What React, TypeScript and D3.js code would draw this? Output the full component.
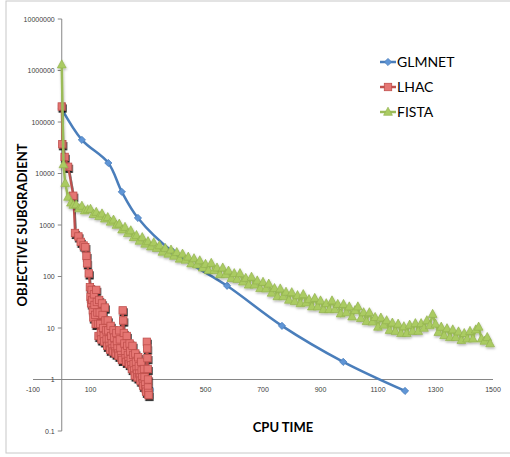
import { curveCatmullRom, curveLinear, line, scaleLinear, scaleLog } from "d3";

// CPU time vs. objective subgradient
const glmnetPoints: [number, number][] = [
  [0, 180000], [70, 45000], [162, 16000], [209, 4400], [265, 1370],
  [387, 300], [575, 66], [766, 11], [979, 2.2], [1194, 0.6]
];

const lhacPoints: [number, number][] = [
  [0, 200000], [2, 37000], [10, 21000], [22, 13500], [40, 3700], [46, 700],
  [58, 600], [66, 470], [76, 400], [82, 370], [86, 250], [88, 180], [94, 115],
  [98, 62], [100, 40], [102, 30], [104, 55], [106, 35], [108, 22], [110, 16],
  [112, 45], [114, 28], [116, 18], [118, 12], [120, 55], [122, 32], [124, 20],
  [126, 12], [128, 7], [130, 35], [132, 20], [134, 12], [136, 8], [138, 6],
  [140, 30], [142, 18], [144, 10], [146, 7], [148, 5.5], [150, 25], [152, 14],
  [154, 9], [156, 6], [158, 4.5], [160, 14], [162, 9], [164, 6], [166, 4.5],
  [168, 3.8], [170, 11], [172, 7], [174, 5], [176, 4], [178, 3.5], [180, 9],
  [182, 6.5], [184, 4.5], [186, 3.5], [188, 3.2], [190, 8], [192, 5.5], [194, 4],
  [196, 3.2], [198, 2.9], [200, 9], [202, 6], [204, 4], [206, 3], [208, 2.6],
  [210, 2.4], [212, 22], [214, 14], [216, 8], [218, 5], [220, 3.5], [222, 2.6],
  [224, 2.2], [226, 7], [228, 4.5], [230, 3], [232, 2.3], [234, 2], [236, 5],
  [238, 3.5], [240, 2.5], [242, 1.9], [244, 1.6], [246, 4.5], [248, 3], [250, 2],
  [252, 1.5], [254, 1.2], [256, 3.2], [258, 2.2], [260, 1.6], [262, 1.3],
  [264, 1.1], [266, 2.7], [268, 1.8], [270, 1.3], [272, 1.1], [274, 0.95],
  [276, 2.2], [278, 1.5], [280, 1.1], [282, 0.85], [284, 0.75], [286, 1.6],
  [288, 1.1], [290, 0.8], [292, 0.65], [294, 0.58], [296, 5.4], [297, 4],
  [298, 2.6], [299, 1.6], [300, 1.0], [300, 0.7], [301, 0.55], [302, 0.5]
];

const fistaPoints: [number, number][] = [
  [0, 1300000], [6, 15000], [12, 6500], [22, 3500], [32, 2700],
  [40, 2450], [50, 2500], [60, 2090], [70, 2340], [80, 1900], [90, 2000],
  [100, 2040], [110, 1620], [120, 1780], [130, 1480], [140, 1660], [150, 1320],
  [160, 1410], [170, 1150], [180, 1260], [190, 1000], [200, 1050], [210, 810],
  [220, 910], [230, 690], [240, 780], [250, 575], [260, 630], [270, 490],
  [280, 575], [290, 430], [300, 480], [310, 380], [320, 457], [330, 355],
  [340, 400], [350, 300], [360, 355], [370, 275], [380, 330], [390, 250],
  [400, 295], [410, 220], [420, 275], [430, 210], [440, 240], [450, 178],
  [460, 224], [470, 170], [480, 204], [490, 148], [500, 174], [510, 132],
  [520, 182], [530, 132], [540, 148], [550, 110], [560, 148], [570, 110],
  [580, 129], [590, 93], [600, 115], [610, 89], [620, 115], [630, 79],
  [640, 93], [650, 69], [660, 98], [670, 69], [680, 83], [690, 59], [700, 78],
  [710, 58], [720, 72], [730, 48], [740, 59], [750, 41], [760, 58], [770, 41],
  [780, 50], [790, 35], [800, 49], [810, 33], [820, 43], [830, 30], [840, 45],
  [850, 31], [860, 36], [870, 26], [880, 38], [890, 26], [900, 34], [910, 23],
  [920, 30], [930, 23], [940, 34], [950, 23], [960, 29], [970, 19], [980, 29],
  [990, 20], [1000, 26], [1010, 16.6], [1020, 22], [1030, 26], [1040, 15.5],
  [1050, 20], [1060, 13.5], [1070, 20], [1080, 13.2], [1090, 16.2],
  [1100, 10.5], [1110, 15.8], [1120, 11.5], [1130, 14], [1140, 9.1],
  [1150, 12.6], [1160, 8.7], [1170, 12], [1180, 7.9], [1190, 10.7], [1200, 7.9],
  [1210, 11.5], [1220, 8.7], [1230, 12.3], [1240, 8.7], [1250, 12.3], [1260, 10],
  [1270, 14], [1280, 11.2], [1290, 18.6], [1300, 12], [1310, 8.3], [1320, 10.5],
  [1330, 7.2], [1340, 9.8], [1350, 6.6], [1360, 9.3], [1370, 6.6], [1380, 8.5],
  [1390, 5.8], [1400, 7.9], [1410, 6.2], [1420, 8.7], [1430, 6.2], [1440, 9.3],
  [1450, 10.5], [1460, 6.2], [1470, 5.6], [1480, 6.6], [1490, 5.0]
];

const xTicks = [-100, 100, 300, 500, 700, 900, 1100, 1300, 1500];
const yTicks = [0.1, 1, 10, 100, 1000, 10000, 100000, 1000000, 10000000];

const seriesNames = ["GLMNET", "LHAC", "FISTA"];

const width = 510;
const height = 457;

const x = scaleLinear().domain([-100, 1500]).range([33, 493]);
const y = scaleLog().domain([0.1, 10000000]).range([431, 19]);

const blue = "#4a7ebb";
const red = "#c0504d";
const green = "#9bbb59";

function Diamond({ cx, cy }: { cx: number; cy: number }) {
  return (
    <path
      d={`M${cx},${cy - 3.6}L${cx + 3.6},${cy}L${cx},${cy + 3.6}L${cx - 3.6},${cy}Z`}
      fill="#5f95d6"
      stroke="#4a7ebb"
      strokeWidth={0.8}
    />
  );
}

function Square({ cx, cy }: { cx: number; cy: number }) {
  return (
    <rect
      x={cx - 3.7}
      y={cy - 3.7}
      width={7.4}
      height={7.4}
      fill="#e57673"
      stroke="#c0504d"
      strokeWidth={0.8}
    />
  );
}

function Triangle({ cx, cy }: { cx: number; cy: number }) {
  return (
    <path
      d={`M${cx},${cy - 4.8}L${cx + 4.4},${cy + 3.3}L${cx - 4.4},${cy + 3.3}Z`}
      fill="#aacb62"
      stroke="#93b34f"
      strokeWidth={0.7}
    />
  );
}

export default function App() {
  const straight = line<[number, number]>()
    .curve(curveLinear)
    .x((d) => x(d[0]))
    .y((d) => y(d[1]));
  const smooth = line<[number, number]>()
    .curve(curveCatmullRom.alpha(0.5))
    .x((d) => x(d[0]))
    .y((d) => y(d[1]));

  const x0 = x(0);
  const y1 = y(1);
  const legendX = 380;
  const legendY = [62, 87, 112];
  const legendColors = [blue, red, green];

  return (
    <svg
      width={width}
      height={height}
      style={{ position: "absolute", left: 0, top: 0, background: "#fff" }}
    >
      <defs>
        <filter id="redShadow" x="-10%" y="-10%" width="120%" height="130%">
          <feDropShadow dx={0.8} dy={2} stdDeviation={0.6} floodColor="#000" floodOpacity={0.85} />
        </filter>
        <filter id="greenShadow" x="-10%" y="-10%" width="120%" height="130%">
          <feDropShadow dx={0.5} dy={1.5} stdDeviation={0.8} floodColor="#000" floodOpacity={0.3} />
        </filter>
      </defs>
      <rect x={6} y={1} width={520} height={452} fill="none" stroke="#c8c8c8" strokeWidth={1} />

      {/* axes */}
      <line x1={x0} x2={x0} y1={y(10000000)} y2={y(0.1)} stroke="#868686" strokeWidth={1} />
      <line x1={x(-100)} x2={x(1500)} y1={y1} y2={y1} stroke="#868686" strokeWidth={1} />
      {yTicks.map((t) => (
        <g key={t}>
          <line x1={x0 - 4} x2={x0} y1={y(t)} y2={y(t)} stroke="#868686" />
          <text
            x={x0 - 7}
            y={y(t) + 2.5}
            textAnchor="end"
            fontFamily="Liberation Sans, Arial, sans-serif"
            fontSize={7}
            fill="#404040"
          >
            {String(t)}
          </text>
        </g>
      ))}
      {xTicks.map((t) => (
        <text
          key={t}
          x={x(t)}
          y={y1 + 12.5}
          textAnchor="middle"
          fontFamily="Liberation Sans, Arial, sans-serif"
          fontSize={7}
          fill="#404040"
        >
          {t}
        </text>
      ))}

      {/* GLMNET */}
      <path d={smooth(glmnetPoints) ?? ""} fill="none" stroke={blue} strokeWidth={2.5} />
      {glmnetPoints.map((d, i) => (
        <Diamond key={i} cx={x(d[0])} cy={y(d[1])} />
      ))}

      {/* LHAC */}
      <g filter="url(#redShadow)">
        <path d={straight(lhacPoints) ?? ""} fill="none" stroke={red} strokeWidth={2} />
        {lhacPoints.map((d, i) => (
          <Square key={i} cx={x(d[0])} cy={y(d[1])} />
        ))}
      </g>

      {/* FISTA */}
      <g filter="url(#greenShadow)">
        <path d={straight(fistaPoints) ?? ""} fill="none" stroke={green} strokeWidth={2.5} />
        {fistaPoints.map((d, i) => (
          <Triangle key={i} cx={x(d[0])} cy={y(d[1])} />
        ))}
      </g>

      {/* legend */}
      {seriesNames.map((name, i) => (
        <g key={name}>
          <line
            x1={legendX}
            x2={legendX + 16}
            y1={legendY[i]}
            y2={legendY[i]}
            stroke={legendColors[i]}
            strokeWidth={2.5}
          />
          {i === 0 ? <Diamond cx={legendX + 8} cy={legendY[i]} /> : null}
          {i === 1 ? <Square cx={legendX + 8} cy={legendY[i]} /> : null}
          {i === 2 ? <Triangle cx={legendX + 8} cy={legendY[i]} /> : null}
          <text
            x={legendX + 17}
            y={legendY[i] + 5}
            fontFamily="Lato, sans-serif"
            fontSize={14}
            fill="#000"
          >
            {name}
          </text>
        </g>
      ))}

      {/* axis titles */}
      <text
        x={283}
        y={432}
        textAnchor="middle"
        fontFamily="Lato, sans-serif"
        fontWeight="bold"
        fontSize={13}
        fill="#000"
      >
        CPU TIME
      </text>
      <text
        transform="translate(27,225) rotate(-90)"
        textAnchor="middle"
        fontFamily="Lato, sans-serif"
        fontWeight="bold"
        fontSize={13}
        fill="#000"
      >
        OBJECTIVE SUBGRADIENT
      </text>
    </svg>
  );
}
